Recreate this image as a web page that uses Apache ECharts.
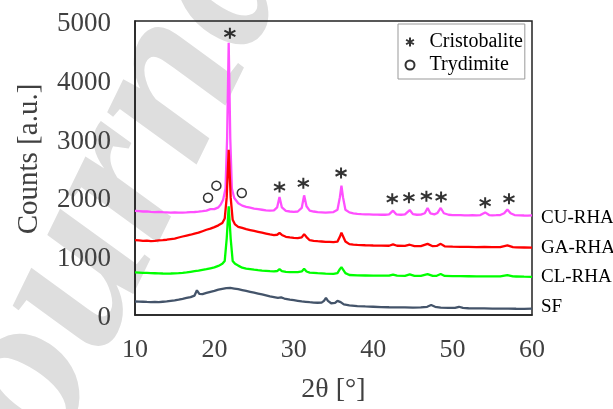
<!DOCTYPE html>
<html>
<head>
<meta charset="utf-8">
<script src="https://cdn.jsdelivr.net/npm/echarts@6/dist/echarts.min.js"></script>
<style>
  html, body { margin: 0; padding: 0; background: #ffffff; }
  #chart { width: 613px; height: 409px; }
</style>
</head>
<body>
<div id="chart"></div>
<script>
// XRD patterns: 2θ in degrees, intensity in counts
const cuRha = [
  [10,1770],[10.5,1765],[11,1760],[11.5,1762],[12,1755],[12.5,1750],[13,1752],[13.5,1748],[14,1745],[14.5,1742],
  [15,1745],[15.5,1740],[16,1742],[16.5,1745],[17,1750],[17.5,1752],[18,1758],[18.5,1765],[19,1775],[19.5,1800],
  [20,1800],[20.5,1830],[20.8,1880],[21.1,1960],[21.4,2150],[21.6,3000],[21.8,4630],[22.0,3000],[22.2,2150],[22.5,1990],
  [23,1900],[23.5,1860],[24,1840],[24.5,1825],[25,1810],[25.5,1800],[26,1790],[26.5,1780],[27,1775],[27.5,1780],
  [27.9,1830],[28.2,2005],[28.5,1830],[29,1770],[29.5,1760],[30,1755],[30.5,1760],[31,1820],[31.3,2035],[31.6,1850],
  [32,1775],[32.5,1760],[33,1750],[33.5,1745],[34,1740],[34.5,1745],[35,1750],[35.5,1790],[35.8,2000],[36.0,2200],
  [36.2,2000],[36.5,1790],[37,1745],[37.5,1730],[38,1720],[38.5,1715],[39,1712],[39.5,1710],[40,1708],[40.5,1706],
  [41,1705],[41.5,1705],[42,1710],[42.5,1775],[42.9,1712],[43.5,1705],[44,1710],[44.6,1785],[45,1715],[45.5,1705],
  [46,1708],[46.5,1730],[46.85,1820],[47.2,1730],[47.7,1712],[48.1,1735],[48.5,1820],[48.9,1730],[49.5,1705],[50,1700],
  [50.5,1698],[51,1697],[51.5,1695],[52,1695],[52.5,1697],[53,1695],[53.5,1700],[54.1,1745],[54.6,1700],[55,1695],
  [55.5,1697],[56,1700],[56.5,1730],[56.9,1795],[57.3,1730],[57.8,1700],[58.5,1695],[59,1692],[59.5,1690],[60,1695]
];
const gaRha = [
  [10,1275],[10.5,1270],[11,1262],[11.5,1265],[12,1258],[12.5,1262],[13,1268],[13.5,1272],[14,1280],[14.5,1290],
  [15,1300],[15.5,1318],[16,1335],[16.5,1350],[17,1365],[17.5,1385],[18,1400],[18.5,1425],[19,1450],[19.5,1470],
  [20,1495],[20.5,1525],[21,1565],[21.3,1640],[21.55,2000],[21.8,2810],[22.05,2000],[22.3,1620],[22.6,1540],[23,1500],
  [23.5,1480],[24,1460],[24.5,1445],[25,1430],[25.5,1415],[26,1400],[26.5,1385],[27,1370],[27.5,1360],[27.9,1365],
  [28.2,1395],[28.5,1362],[29,1330],[29.5,1320],[30,1312],[30.5,1308],[31,1320],[31.3,1375],[31.6,1325],[32,1272],
  [32.5,1262],[33,1255],[33.5,1250],[34,1245],[34.5,1242],[35,1238],[35.5,1248],[35.8,1330],[36.0,1400],[36.2,1340],
  [36.5,1250],[37,1205],[37.5,1198],[38,1192],[38.5,1190],[39,1186],[39.5,1184],[40,1182],[41,1180],[42,1178],
  [42.5,1200],[43,1178],[44,1175],[44.6,1195],[45.2,1172],[46,1170],[46.85,1210],[47.5,1170],[48,1175],[48.5,1210],
  [49,1168],[50,1162],[51,1160],[52,1158],[53,1155],[54,1160],[55,1155],[56,1155],[56.9,1185],[57.6,1155],
  [58,1150],[59,1148],[60,1145]
];
const clRha = [
  [10,725],[10.5,722],[11,718],[11.5,716],[12,712],[12.5,710],[13,708],[13.5,706],[14,705],[14.5,706],
  [15,708],[15.5,712],[16,718],[16.5,725],[17,735],[17.5,745],[18,755],[18.5,768],[19,780],[19.5,795],
  [20,810],[20.5,835],[21,870],[21.3,920],[21.55,1300],[21.8,1850],[22.05,1300],[22.3,920],[22.6,870],[23,840],
  [23.5,805],[24,790],[24.5,780],[25,770],[25.5,762],[26,755],[26.5,750],[27,745],[27.5,742],[27.9,748],
  [28.2,782],[28.5,748],[29,735],[29.5,730],[30,728],[30.5,728],[31,740],[31.3,785],[31.6,740],[32,722],
  [33,712],[34,705],[35,700],[35.5,712],[35.8,780],[36.0,815],[36.2,785],[36.5,712],[37,680],[38,674],
  [39,672],[40,670],[41,668],[42,668],[42.5,688],[43,668],[44,666],[44.6,692],[45.2,666],[46,665],
  [46.85,695],[47.5,665],[48,667],[48.5,697],[49,664],[50,660],[51,660],[52,659],[53,658],[54,658],
  [55,656],[56,656],[56.9,680],[57.6,656],[58,655],[59,652],[60,650]
];
const sf = [
  [10,230],[10.5,228],[11,225],[11.5,222],[12,220],[12.5,222],[13,220],[13.5,225],[14,230],[14.5,240],
  [15,250],[15.5,262],[16,275],[16.5,290],[17,305],[17.5,330],[17.8,420],[18.1,360],[18.5,355],[19,375],
  [19.5,395],[20,410],[20.5,430],[21,445],[21.5,458],[22,460],[22.5,450],[23,440],[23.5,425],[24,410],
  [24.5,395],[25,380],[25.5,365],[26,350],[26.5,335],[27,318],[27.5,305],[28,292],[28.4,300],[28.8,280],
  [29.5,262],[30,252],[30.5,242],[31,232],[31.5,225],[32,218],[32.5,212],[33,208],[33.5,210],[33.8,240],
  [34.05,290],[34.3,240],[34.7,200],[35.2,205],[35.5,240],[35.65,270],[35.9,220],[36.3,180],[37,165],[38,152],
  [39,145],[40,140],[41,135],[42,132],[43,130],[44,128],[45,126],[46,128],[46.8,140],[47.3,170],
  [47.8,140],[48.5,125],[49.5,120],[50.3,122],[50.8,140],[51.3,120],[52,115],[53,112],[54,112],[54.2,120],
  [55,110],[56,108],[57,108],[58,106],[59,105],[60,108]
];

// Phase markers placed above the reflections
const cristobaliteMarks = [
  [21.95,4790],[28.2,2175],[31.2,2240],[35.95,2415],[42.4,1975],[44.5,1995],
  [46.7,2020],[48.55,2005],[54.1,1910],[57.1,1975]
];
const trydimiteMarks = [[19.2,1995],[20.25,2200],[23.45,2075]];

const seriesNames = ['CU-RHA', 'GA-RHA', 'CL-RHA', 'SF'];
const seriesData = [cuRha, gaRha, clRha, sf];
const seriesColors = ['#FF4FFF', '#FF0000', '#00FF00', '#44546A'];
const labelOffsets = [[0, 3], [0, 0], [0, 0], [0, -2]];
const phaseNames = ['Cristobalite', 'Trydimite'];

const serif = '"Liberation Serif", "Times New Roman", serif';
const starPath = 'path://M5,0 L5,10 M0.67,2.5 L9.33,7.5 M0.67,7.5 L9.33,2.5';

const chart = echarts.init(document.getElementById('chart'), null, { renderer: 'canvas' });

const lineSeries = seriesNames.map((name, i) => ({
  name: name,
  type: 'line',
  data: seriesData[i],
  showSymbol: false,
  symbol: 'none',
  lineStyle: { color: seriesColors[i], width: 2.3 },
  itemStyle: { color: seriesColors[i] },
  z: 3 + i,
  endLabel: {
    show: true,
    formatter: '{a}',
    distance: 9,
    offset: labelOffsets[i],
    color: '#000',
    fontFamily: serif,
    fontSize: 19
  },
  emphasis: { disabled: true }
}));

chart.setOption({
  animation: false,
  backgroundColor: '#ffffff',
  graphic: [{
    type: 'text',
    x: 112,
    y: 205,
    rotation: Math.PI * 64 / 180,
    z: -10,
    silent: true,
    style: {
      text: 'Journal',
      fill: '#dedede',
      font: 'italic bold 225px "Liberation Serif", serif',
      textAlign: 'center',
      textVerticalAlign: 'middle'
    }
  }],
  grid: {
    left: 135, right: 81, top: 21, bottom: 92,
    show: true, borderColor: '#222', borderWidth: 1.5,
    backgroundColor: 'transparent'
  },
  legend: {
    data: phaseNames,
    orient: 'vertical',
    left: 398,
    top: 24,
    itemWidth: 25,
    itemHeight: 9,
    itemGap: 3,
    padding: [8, 2, 4, 5],
    borderColor: '#999',
    borderWidth: 1,
    backgroundColor: '#fff',
    selectedMode: false,
    textStyle: { fontFamily: serif, fontSize: 20, color: '#000', lineHeight: 20, padding: [0, 0, 0, 2] }
  },
  xAxis: {
    type: 'value',
    min: 10, max: 60, interval: 10,
    name: '2θ [°]',
    nameLocation: 'middle',
    nameGap: 61,
    nameTextStyle: { fontFamily: serif, fontSize: 28, color: '#404040' },
    axisLine: { show: true, lineStyle: { color: '#222', width: 1.5 } },
    axisTick: { show: false },
    splitLine: { show: false },
    axisLabel: { fontFamily: serif, fontSize: 26, color: '#404040', margin: 22 }
  },
  yAxis: {
    type: 'value',
    min: 0, max: 5000, interval: 1000,
    name: 'Counts [a.u.]',
    nameLocation: 'middle',
    nameGap: 91,
    nameTextStyle: { fontFamily: serif, fontSize: 29, color: '#404040', padding: [0, 0, 0, 18] },
    axisLine: { show: true, lineStyle: { color: '#222', width: 1.5 } },
    axisTick: { show: false },
    splitLine: { show: false },
    axisLabel: {
      margin: 24,
      formatter: (v) => '{n|' + v + '}',
      rich: {
        n: { fontFamily: serif, fontSize: 27, color: '#404040', padding: [6, 0, 0, 0] }
      }
    }
  },
  series: lineSeries.concat([
    {
      name: phaseNames[0],
      type: 'scatter',
      data: cristobaliteMarks,
      symbol: starPath,
      symbolSize: 11,
      itemStyle: { color: 'none', borderColor: '#000', borderWidth: 2 },
      z: 10,
      emphasis: { disabled: true }
    },
    {
      name: phaseNames[1],
      type: 'scatter',
      data: trydimiteMarks,
      symbol: 'circle',
      symbolSize: 9,
      itemStyle: { color: 'none', borderColor: '#000', borderWidth: 1.5 },
      z: 10,
      emphasis: { disabled: true }
    }
  ])
});
</script>
</body>
</html>
